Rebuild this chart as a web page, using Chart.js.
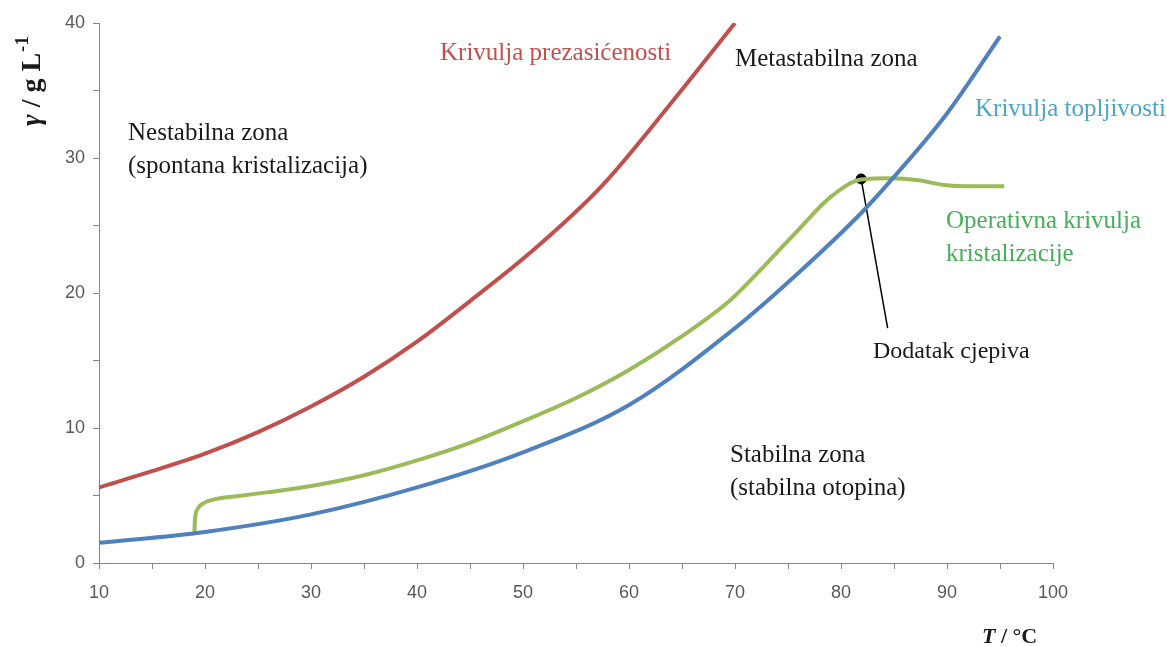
<!DOCTYPE html>
<html>
<head>
<meta charset="utf-8">
<script src="https://cdn.jsdelivr.net/npm/chart.js@4.4.0/dist/chart.umd.min.js"></script>
<style>
  html, body { margin: 0; padding: 0; background: #fff; }
  #wrap { width: 1167px; height: 647px; position: relative; }
</style>
</head>
<body>
<div id="wrap"><canvas id="chart" width="1167" height="647"></canvas></div>
<script>
// krivulja topljivosti (plava)
const solT = [10, 20, 30, 40, 50, 60, 70, 76, 82, 85, 90, 95];
const solY = [1.5, 2.3, 3.6, 5.6, 8.2, 11.7, 17.4, 21.5, 26.0, 28.6, 33.3, 39.0];

// krivulja prezasićenosti (crvena)
const supT = [10, 15, 20, 25, 30, 35, 40, 45, 51, 57.4, 63.7, 70];
const supY = [5.6, 6.8, 8.1, 9.7, 11.6, 13.8, 16.4, 19.4, 23.2, 27.9, 33.8, 40.0];

// operativna krivulja kristalizacije (zelena)
const opT = [19, 19.05, 19.3, 19.8, 20.8, 23, 26, 30, 35, 40, 45, 50, 55.2, 60, 65, 69.6, 73, 76, 79, 81.9, 84.7, 87.3, 89.7, 92, 95.4];
const opY = [2.2, 3.2, 4.0, 4.4, 4.7, 4.95, 5.25, 5.7, 6.5, 7.6, 8.9, 10.5, 12.3, 14.3, 16.8, 19.5, 22.2, 24.7, 27.1, 28.4, 28.5, 28.35, 28.0, 27.9, 27.9];

// dodatak cjepiva
const seedT = [81.9];
const seedY = [28.45];
const leaderT = [81.9, 84.4];
const leaderY = [28.45, 17.4];

const xTicks = [10, 20, 30, 40, 50, 60, 70, 80, 90, 100];
const yTicks = [0, 10, 20, 30, 40];

const pts = (xs, ys) => xs.map((x, i) => ({ x, y: ys[i] }));

const labels = [
  { text: 'Krivulja prezasićenosti', x: 440, y: 53, color: '#c0504d', size: 25 },
  { text: 'Metastabilna zona', x: 735, y: 59, color: '#1a1a1a', size: 25 },
  { text: 'Krivulja topljivosti', x: 975, y: 109, color: '#4ba6c8', size: 25 },
  { text: 'Nestabilna zona', x: 128, y: 133, color: '#1a1a1a', size: 25 },
  { text: '(spontana kristalizacija)', x: 128, y: 166, color: '#1a1a1a', size: 25 },
  { text: 'Operativna krivulja', x: 946, y: 221, color: '#46ae58', size: 25 },
  { text: 'kristalizacije', x: 946, y: 254, color: '#46ae58', size: 25 },
  { text: 'Dodatak cjepiva', x: 873, y: 352, color: '#1a1a1a', size: 24 },
  { text: 'Stabilna zona', x: 730, y: 455, color: '#1a1a1a', size: 25 },
  { text: '(stabilna otopina)', x: 730, y: 488, color: '#1a1a1a', size: 25 }
];

const textPlugin = {
  id: 'texts',
  afterDraw(chart) {
    const ctx = chart.ctx;
    ctx.save();
    ctx.textBaseline = 'middle';
    ctx.textAlign = 'left';
    labels.forEach(l => {
      ctx.font = l.size + 'px "Liberation Serif", "Times New Roman", serif';
      ctx.fillStyle = l.color;
      ctx.fillText(l.text, l.x, l.y);
    });

    // naslov osi y
    ctx.fillStyle = '#1a1a1a';
    ctx.translate(33, 126);
    ctx.rotate(-Math.PI / 2);
    ctx.textBaseline = 'middle';
    let x = 0;
    ctx.font = 'italic bold 28px "Liberation Serif", serif';
    ctx.fillText('γ', x, 0);
    x += ctx.measureText('γ').width;
    ctx.font = 'bold 28px "Liberation Serif", serif';
    ctx.fillText(' / g L', x, 0);
    x += ctx.measureText(' / g L').width;
    ctx.font = 'bold 19px "Liberation Serif", serif';
    ctx.fillText('-1', x + 1, -10);
    ctx.restore();

    // naslov osi x
    ctx.save();
    ctx.fillStyle = '#1a1a1a';
    ctx.textBaseline = 'alphabetic';
    let tx = 982;
    ctx.font = 'italic bold 22px "Liberation Serif", serif';
    ctx.fillText('T', tx, 643);
    tx += ctx.measureText('T').width;
    ctx.font = 'bold 22px "Liberation Serif", serif';
    ctx.fillText(' / °C', tx, 643);
    ctx.restore();
  }
};

new Chart(document.getElementById('chart').getContext('2d'), {
  type: 'scatter',
  data: {
    datasets: [
      { data: pts(supT, supY), borderColor: '#c0504d', borderWidth: 4, showLine: true, pointRadius: 0, cubicInterpolationMode: 'monotone' },
      { data: pts(solT, solY), borderColor: '#4f81bd', borderWidth: 4, showLine: true, pointRadius: 0, cubicInterpolationMode: 'monotone' },
      { data: pts(opT, opY), borderColor: '#9bbb59', borderWidth: 4, showLine: true, pointRadius: 0, cubicInterpolationMode: 'monotone' },
      { data: pts(leaderT, leaderY), borderColor: '#000', borderWidth: 1.5, showLine: true, pointRadius: 0 },
      { data: pts(seedT, seedY), backgroundColor: '#000', borderColor: '#000', pointRadius: 5, showLine: false }
    ]
  },
  options: {
    responsive: false,
    animation: false,
    layout: { padding: { top: 23, right: 114, left: 0, bottom: 0 } },
    plugins: { legend: { display: false }, tooltip: { enabled: false } },
    scales: {
      x: {
        type: 'linear',
        min: 10, max: 100,
        afterFit(s) { s.height = 84; },
        afterBuildTicks(s) {
          const t = [];
          for (let v = 10; v <= 100; v += 5) t.push({ value: v });
          s.ticks = t;
        },
        ticks: {
          callback: v => xTicks.includes(v) ? String(v) : '',
          color: '#595959',
          font: { family: '"Liberation Sans", Arial, sans-serif', size: 18 },
          padding: 13,
          maxRotation: 0,
          autoSkip: false
        },
        grid: { drawOnChartArea: false, drawTicks: true, tickLength: 6, color: '#868686' },
        border: { color: '#868686', width: 1 }
      },
      y: {
        min: 0, max: 40,
        afterFit(s) { s.width = 99; },
        afterBuildTicks(s) {
          const t = [];
          for (let v = 0; v <= 40; v += 5) t.push({ value: v });
          s.ticks = t;
        },
        ticks: {
          callback: v => yTicks.includes(v) ? String(v) : '',
          color: '#595959',
          font: { family: '"Liberation Sans", Arial, sans-serif', size: 18 },
          padding: 8,
          autoSkip: false
        },
        grid: { drawOnChartArea: false, drawTicks: true, tickLength: 6, color: '#868686' },
        border: { color: '#868686', width: 1 }
      }
    }
  },
  plugins: [textPlugin]
});
</script>
</body>
</html>
